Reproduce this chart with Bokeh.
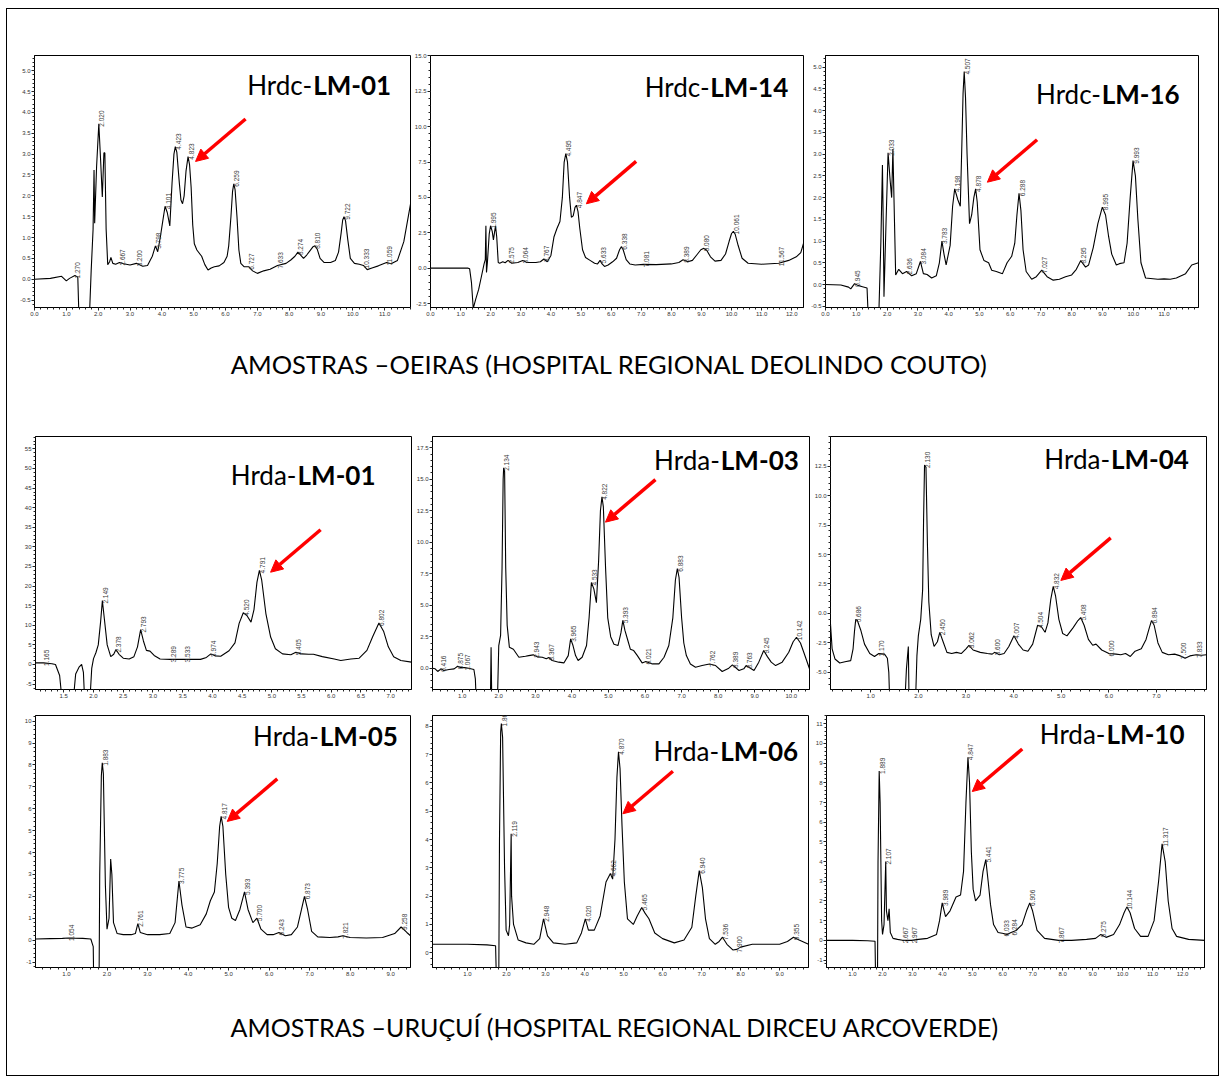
import numpy as np
from bokeh.plotting import figure
from bokeh.models import Range1d, FixedTicker, PrintfTickFormatter, Label, Arrow, NormalHead, Spacer
from bokeh.layouts import column, row
from bokeh.core.properties import value
from bokeh.embed import file_html
from bokeh.resources import INLINE

# ---------------- data: chromatogram traces (time [min], signal [mAU]) ----------------
hrdc_lm01 = [(0.00, 0.00), (0.50, 0.02), (0.85, 0.07), (1.00, -0.04), (1.10, 0.02), (1.27, 0.09), (1.36, 0.05),
             (1.40, -1.0), (1.72, -1.0), (1.78, 0.2), (1.84, 1.2), (1.87, 2.62), (1.89, 1.34), (1.95, 2.7),
             (2.02, 3.73), (2.08, 2.8), (2.13, 1.97), (2.18, 3.03), (2.21, 3.03), (2.25, 1.2), (2.30, 0.35),
             (2.36, 0.42), (2.40, 0.52), (2.46, 0.38), (2.55, 0.36), (2.667, 0.40), (2.80, 0.37), (3.00, 0.34),
             (3.20, 0.38), (3.40, 0.31), (3.55, 0.33), (3.70, 0.55), (3.798, 0.80), (3.87, 0.66), (3.95, 1.0),
             (4.03, 1.4), (4.101, 1.75), (4.17, 1.6), (4.25, 1.28), (4.32, 2.3), (4.38, 3.0), (4.423, 3.18),
             (4.47, 3.05), (4.55, 2.3), (4.60, 1.9), (4.65, 1.81), (4.70, 2.0), (4.76, 2.6), (4.823, 2.94),
             (4.87, 2.75), (4.92, 2.2), (4.97, 1.3), (5.02, 0.85), (5.10, 0.70), (5.25, 0.55), (5.35, 0.35),
             (5.45, 0.22), (5.55, 0.27), (5.65, 0.30), (5.80, 0.32), (5.95, 0.40), (6.05, 0.55), (6.10, 0.8),
             (6.17, 1.5), (6.22, 2.1), (6.259, 2.29), (6.30, 2.15), (6.36, 1.5), (6.42, 0.7), (6.48, 0.38),
             (6.58, 0.30), (6.727, 0.30), (6.85, 0.20), (7.00, 0.14), (7.20, 0.20), (7.40, 0.24), (7.633, 0.33),
             (7.90, 0.38), (8.05, 0.46), (8.18, 0.55), (8.274, 0.65), (8.36, 0.58), (8.45, 0.50), (8.55, 0.58),
             (8.65, 0.68), (8.75, 0.78), (8.810, 0.80), (8.88, 0.72), (8.97, 0.50), (9.10, 0.40), (9.30, 0.40),
             (9.45, 0.45), (9.55, 0.65), (9.63, 1.1), (9.68, 1.42), (9.722, 1.50), (9.77, 1.4), (9.84, 0.95),
             (9.92, 0.50), (10.05, 0.38), (10.20, 0.36), (10.333, 0.33), (10.45, 0.23), (10.60, 0.27),
             (10.80, 0.32), (11.059, 0.40), (11.20, 0.37), (11.40, 0.45), (11.60, 0.90), (11.81, 1.8)]
hrdc_lm01_peaks = [1.270, 2.020, 2.667, 3.200, 3.798, 4.101, 4.423, 4.823, 6.259, 6.727, 7.633, 8.274,
                   8.810, 9.722, 10.333, 11.059]

hrdc_lm14 = [(0.00, 0.00), (0.60, 0.00), (1.25, 0.00), (1.30, -0.05), (1.36, -1.0), (1.42, -2.85), (1.50, -2.2),
             (1.60, -1.5), (1.70, -0.5), (1.78, 0.3), (1.82, 0.6), (1.84, 3.0), (1.86, -0.3), (1.89, 0.4),
             (1.95, 2.4), (1.995, 3.0), (2.05, 2.6), (2.09, 2.0), (2.16, 3.0), (2.20, 2.2), (2.25, 0.4),
             (2.30, 0.35), (2.40, 0.45), (2.48, 0.38), (2.575, 0.55), (2.70, 0.35), (2.90, 0.40), (3.064, 0.55),
             (3.20, 0.40), (3.50, 0.40), (3.65, 0.45), (3.767, 0.65), (3.88, 0.45), (4.00, 0.9), (4.10, 2.2),
             (4.20, 2.8), (4.30, 3.3), (4.38, 5.0), (4.44, 7.5), (4.495, 8.1), (4.55, 7.5), (4.62, 5.0),
             (4.68, 3.6), (4.74, 3.7), (4.80, 4.3), (4.847, 4.45), (4.90, 4.0), (4.96, 2.8), (5.05, 1.3),
             (5.15, 0.75), (5.30, 0.55), (5.45, 0.35), (5.55, 0.30), (5.633, 0.55), (5.70, 0.30), (5.78, 0.12),
             (5.90, 0.22), (6.05, 0.45), (6.18, 0.70), (6.28, 1.3), (6.338, 1.52), (6.40, 1.3), (6.50, 0.6),
             (6.62, 0.30), (6.80, 0.22), (7.081, 0.27), (7.50, 0.25), (8.00, 0.30), (8.25, 0.40), (8.389, 0.60),
             (8.55, 0.45), (8.70, 0.55), (8.85, 0.95), (8.98, 1.3), (9.080, 1.40), (9.18, 1.25), (9.30, 0.80),
             (9.45, 0.50), (9.65, 0.55), (9.80, 1.0), (9.92, 1.9), (10.00, 2.45), (10.061, 2.6), (10.12, 2.4),
             (10.22, 1.6), (10.35, 0.7), (10.55, 0.35), (11.00, 0.28), (11.567, 0.35), (11.90, 0.55),
             (12.15, 0.80), (12.30, 1.1), (12.39, 1.75)]
hrdc_lm14_peaks = [1.995, 2.575, 3.064, 3.767, 4.495, 4.847, 5.633, 6.338, 7.081, 8.389, 9.080, 10.061, 11.567]

hrdc_lm16 = [(0.00, 0.00), (0.50, -0.01), (0.75, -0.06), (0.82, -0.10), (0.945, 0.02), (1.05, -0.02),
             (1.20, -0.05), (1.35, -0.08), (1.38, -0.6), (1.40, -1.0), (1.72, -1.0), (1.80, 1.0), (1.85, 2.75),
             (1.88, 1.2), (1.90, -0.28), (1.97, 1.5), (2.033, 3.03), (2.10, 2.4), (2.15, 2.0), (2.19, 3.12),
             (2.24, 1.5), (2.28, 0.22), (2.38, 0.35), (2.50, 0.25), (2.636, 0.30), (2.80, 0.20), (2.95, 0.25),
             (3.084, 0.53), (3.18, 0.25), (3.30, 0.23), (3.45, 0.15), (3.60, 0.20), (3.70, 0.50), (3.783, 1.0),
             (3.85, 0.7), (3.92, 0.45), (4.05, 0.90), (4.13, 1.8), (4.198, 2.2), (4.30, 1.95), (4.38, 1.80),
             (4.43, 3.2), (4.47, 4.4), (4.507, 4.9), (4.55, 4.3), (4.60, 3.0), (4.68, 1.40), (4.75, 1.60),
             (4.82, 2.0), (4.878, 2.2), (4.93, 1.9), (5.02, 0.80), (5.15, 0.55), (5.30, 0.50), (5.40, 0.33),
             (5.55, 0.30), (5.75, 0.25), (5.90, 0.50), (6.05, 0.65), (6.15, 0.95), (6.22, 1.6), (6.288, 2.1),
             (6.35, 1.7), (6.42, 0.8), (6.52, 0.30), (6.70, 0.12), (6.85, 0.18), (7.027, 0.33), (7.20, 0.18),
             (7.40, 0.10), (7.60, 0.12), (7.80, 0.18), (8.00, 0.22), (8.15, 0.35), (8.295, 0.55), (8.45, 0.40),
             (8.55, 0.45), (8.70, 0.85), (8.85, 1.4), (8.995, 1.78), (9.10, 1.6), (9.20, 1.1), (9.30, 0.70),
             (9.45, 0.45), (9.55, 0.48), (9.70, 0.50), (9.80, 0.95), (9.90, 2.0), (9.993, 2.85), (10.07, 2.5),
             (10.15, 1.5), (10.25, 0.5), (10.40, 0.15), (10.80, 0.12), (11.00, 0.13), (11.20, 0.12),
             (11.40, 0.15), (11.70, 0.25), (11.90, 0.45), (12.12, 0.50)]
hrdc_lm16_peaks = [0.945, 2.033, 2.636, 3.084, 3.783, 4.198, 4.507, 4.878, 6.288, 7.027, 8.295, 8.995, 9.993]

hrda_lm01 = [(1.024, 0.4), (1.16, 0.4), (1.30, 0.2), (1.36, 0.0), (1.43, -2.8), (1.47, -9.0), (1.66, -9.0),
             (1.70, -2.4), (1.76, -0.6), (1.80, 0.0), (1.83, -2.0), (1.85, -9.0), (1.94, -9.0), (1.97, -1.0),
             (2.00, 1.5), (2.04, 3.0), (2.08, 5.0), (2.12, 11.0), (2.149, 16.3), (2.18, 12.0), (2.23, 5.0),
             (2.29, 2.0), (2.34, 2.6), (2.378, 3.8), (2.43, 2.6), (2.50, 1.6), (2.60, 1.4), (2.68, 2.0),
             (2.74, 4.5), (2.793, 8.9), (2.84, 6.0), (2.89, 3.6), (2.95, 3.4), (3.02, 2.3), (3.12, 1.4),
             (3.289, 1.3), (3.533, 1.3), (3.80, 1.3), (3.90, 1.8), (3.974, 2.7), (4.05, 2.2), (4.14, 2.1),
             (4.28, 3.5), (4.38, 5.5), (4.45, 10.5), (4.520, 13.2), (4.58, 12.5), (4.65, 10.8), (4.70, 14.0),
             (4.75, 21.0), (4.791, 24.0), (4.83, 21.5), (4.90, 13.0), (4.98, 7.0), (5.06, 4.0), (5.18, 2.7),
             (5.32, 2.5), (5.405, 3.1), (5.50, 2.7), (5.62, 2.6), (5.70, 2.6), (5.85, 2.0), (6.05, 1.4),
             (6.16, 1.0), (6.33, 1.4), (6.47, 1.6), (6.60, 3.6), (6.70, 7.2), (6.802, 10.6), (6.88, 8.5),
             (6.96, 4.5), (7.05, 2.0), (7.17, 1.0), (7.35, 0.6)]
hrda_lm01_peaks = [1.165, 2.149, 2.378, 2.793, 3.289, 3.533, 3.974, 4.520, 4.791, 5.405, 6.802]

hrda_lm03 = [(0.188, 0.0), (0.26, -0.05), (0.33, -0.26), (0.40, -0.10), (0.416, -0.05), (0.50, -0.18),
             (0.64, -0.10), (0.78, -0.05), (0.875, 0.16), (0.95, 0.05), (1.067, 0.05), (1.18, 0.0),
             (1.32, -0.10), (1.36, -0.85), (1.39, -3.0), (1.77, -3.0), (1.79, 1.67), (1.81, -3.0), (1.96, -3.0),
             (2.00, 1.8), (2.05, 2.6), (2.09, 8.0), (2.12, 15.0), (2.134, 15.9), (2.16, 15.6), (2.19, 8.0),
             (2.23, 3.4), (2.29, 1.67), (2.40, 1.5), (2.55, 0.87), (2.73, 0.95), (2.82, 1.0), (2.943, 1.06),
             (3.05, 0.9), (3.19, 0.87), (3.30, 0.75), (3.367, 0.85), (3.46, 0.61), (3.64, 0.48), (3.78, 0.42),
             (3.90, 1.0), (3.965, 2.33), (4.03, 1.8), (4.10, 1.0), (4.17, 0.61), (4.28, 0.87), (4.40, 1.8),
             (4.47, 4.0), (4.533, 6.8), (4.60, 6.3), (4.67, 5.2), (4.73, 8.5), (4.78, 12.5), (4.822, 13.6),
             (4.86, 12.8), (4.92, 8.0), (4.98, 4.0), (5.06, 2.5), (5.15, 1.9), (5.26, 1.8), (5.34, 2.8),
             (5.393, 3.8), (5.45, 3.0), (5.53, 2.2), (5.60, 1.5), (5.69, 1.4), (5.79, 1.0), (5.92, 0.42),
             (6.021, 0.53), (6.20, 0.34), (6.38, 0.34), (6.52, 0.87), (6.65, 1.8), (6.76, 4.0), (6.83, 7.0),
             (6.883, 7.9), (6.93, 7.2), (7.00, 4.0), (7.06, 2.0), (7.13, 1.0), (7.24, 0.34), (7.38, 0.08),
             (7.56, 0.21), (7.762, 0.34), (7.93, 0.21), (8.11, -0.26), (8.29, 0.0), (8.389, 0.26), (8.57, -0.18),
             (8.70, -0.05), (8.763, 0.21), (8.98, -0.18), (9.11, 0.48), (9.245, 1.4), (9.35, 0.9), (9.45, 0.48),
             (9.57, 0.21), (9.75, 0.48), (9.93, 1.27), (10.05, 2.1), (10.142, 2.46), (10.25, 2.0), (10.34, 1.27),
             (10.497, -0.05)]
hrda_lm03_peaks = [0.416, 0.875, 1.067, 2.134, 2.943, 3.367, 3.965, 4.533, 4.822, 5.393, 6.021, 6.883, 7.762,
                   8.389, 8.763, 9.245, 10.142]

hrda_lm04 = [(0.156, -0.9), (0.19, -3.0), (0.25, -3.86), (0.35, -4.2), (0.46, -4.1), (0.58, -4.0), (0.63, -3.0),
             (0.66, -1.5), (0.686, -0.5), (0.72, -0.6), (0.79, -1.4), (0.87, -2.6), (0.98, -3.4), (1.08, -3.65),
             (1.170, -3.4), (1.29, -3.45), (1.35, -3.8), (1.38, -5.0), (1.41, -9.0), (1.70, -9.0), (1.75, -4.7),
             (1.79, -2.8), (1.81, -9.0), (1.93, -9.0), (1.97, -3.6), (2.00, -1.9), (2.05, -0.5), (2.09, 2.0),
             (2.11, 8.0), (2.130, 12.6), (2.16, 12.4), (2.19, 6.0), (2.22, 1.0), (2.27, -1.8), (2.33, -2.8),
             (2.40, -2.4), (2.450, -1.6), (2.52, -2.4), (2.60, -3.3), (2.70, -3.4), (2.80, -3.3), (2.90, -3.4),
             (3.00, -3.0), (3.062, -2.7), (3.15, -3.1), (3.30, -3.3), (3.45, -3.4), (3.55, -3.45), (3.600, -3.3),
             (3.70, -3.5), (3.80, -3.4), (3.90, -2.8), (4.007, -1.9), (4.10, -2.6), (4.20, -3.1), (4.30, -3.2),
             (4.40, -2.6), (4.504, -1.0), (4.58, -1.1), (4.66, -1.6), (4.72, -0.8), (4.78, 1.2), (4.832, 2.3),
             (4.88, 1.5), (4.95, -0.5), (5.03, -1.7), (5.12, -1.9), (5.25, -1.2), (5.35, -0.6), (5.408, -0.35),
             (5.48, -1.0), (5.57, -2.2), (5.66, -2.7), (5.73, -2.6), (5.85, -3.1), (6.000, -3.4), (6.15, -3.45),
             (6.25, -3.5), (6.35, -3.4), (6.45, -3.65), (6.55, -3.2), (6.68, -3.0), (6.78, -2.2), (6.85, -1.2),
             (6.894, -0.6), (6.95, -1.0), (7.03, -2.5), (7.12, -3.3), (7.25, -3.5), (7.38, -3.45), (7.500, -3.6),
             (7.60, -3.8), (7.70, -3.6), (7.833, -3.5), (7.95, -3.55), (8.049, -3.5)]
hrda_lm04_peaks = [0.686, 1.170, 2.130, 2.450, 3.062, 3.600, 4.007, 4.504, 4.832, 5.408, 6.000, 6.894, 7.500, 7.833]

hrda_lm05 = [(0.235, 0.05), (0.60, 0.07), (0.90, 0.08), (1.054, 0.10), (1.20, 0.09), (1.40, 0.08), (1.60, 0.05),
             (1.66, -0.3), (1.68, -3.0), (1.80, -3.0), (1.82, 3.0), (1.86, 7.5), (1.883, 8.1), (1.91, 7.6),
             (1.96, 2.5), (2.00, 0.5), (2.05, 1.0), (2.09, 3.7), (2.12, 3.0), (2.16, 0.8), (2.25, 0.3),
             (2.40, 0.25), (2.60, 0.25), (2.70, 0.30), (2.761, 0.75), (2.82, 0.35), (3.00, 0.25), (3.30, 0.25),
             (3.55, 0.30), (3.68, 0.8), (3.775, 2.7), (3.85, 1.6), (3.95, 0.6), (4.10, 0.55), (4.30, 0.7),
             (4.45, 1.2), (4.55, 1.8), (4.65, 2.2), (4.72, 3.5), (4.78, 5.2), (4.817, 5.65), (4.86, 5.2),
             (4.93, 3.0), (5.00, 1.5), (5.08, 1.0), (5.17, 0.9), (5.28, 1.4), (5.393, 2.2), (5.48, 1.4),
             (5.60, 0.8), (5.700, 1.0), (5.80, 0.5), (5.95, 0.25), (6.10, 0.25), (6.243, 0.35), (6.40, 0.20),
             (6.55, 0.25), (6.70, 0.6), (6.80, 1.4), (6.873, 2.0), (6.95, 1.4), (7.05, 0.4), (7.20, 0.15),
             (7.50, 0.12), (7.70, 0.15), (7.821, 0.20), (8.00, 0.12), (8.40, 0.10), (8.80, 0.12), (9.10, 0.30),
             (9.258, 0.60), (9.40, 0.35), (9.49, 0.20)]
hrda_lm05_peaks = [1.054, 1.883, 2.761, 3.775, 4.817, 5.393, 5.700, 6.243, 6.873, 7.821, 9.258]

hrda_lm06 = [(0.103, 0.3), (0.50, 0.3), (1.00, 0.3), (1.50, 0.28), (1.72, 0.25), (1.75, -1.5), (1.80, -1.5),
             (1.82, 4.0), (1.85, 7.8), (1.868, 8.1), (1.90, 7.6), (1.95, 3.0), (1.99, 0.8), (2.05, 0.6),
             (2.08, 1.0), (2.119, 4.2), (2.13, 2.0), (2.18, 1.0), (2.30, 0.45), (2.50, 0.35), (2.70, 0.30),
             (2.85, 0.5), (2.948, 1.2), (3.05, 0.6), (3.20, 0.35), (3.50, 0.30), (3.80, 0.35), (3.92, 0.7),
             (4.020, 1.2), (4.10, 0.8), (4.25, 0.8), (4.40, 1.3), (4.55, 2.5), (4.662, 2.8), (4.72, 2.6),
             (4.78, 4.0), (4.83, 6.2), (4.870, 7.1), (4.91, 6.5), (4.96, 4.5), (5.02, 2.5), (5.10, 1.2),
             (5.25, 1.0), (5.35, 1.3), (5.465, 1.6), (5.55, 1.4), (5.65, 1.2), (5.80, 0.7), (6.00, 0.5),
             (6.30, 0.35), (6.55, 0.45), (6.75, 0.9), (6.85, 2.0), (6.940, 2.9), (7.02, 2.3), (7.10, 1.2),
             (7.20, 0.5), (7.35, 0.3), (7.45, 0.4), (7.536, 0.55), (7.65, 0.3), (7.80, 0.1), (7.900, 0.12),
             (8.00, 0.2), (8.30, 0.3), (8.60, 0.3), (9.00, 0.3), (9.20, 0.4), (9.355, 0.55), (9.50, 0.45),
             (9.74, 0.3)]
hrda_lm06_peaks = [1.868, 2.119, 2.948, 4.020, 4.662, 4.870, 5.465, 6.940, 7.536, 7.900, 9.355]

hrda_lm10 = [(0.133, 0.0), (0.50, 0.0), (1.00, 0.0), (1.50, -0.02), (1.75, -0.05), (1.78, -3.0), (1.83, -3.0),
             (1.85, 4.0), (1.889, 8.6), (1.92, 7.0), (1.97, 1.0), (2.00, 0.3), (2.05, 0.8), (2.107, 4.0),
             (2.13, 1.5), (2.18, 1.0), (2.22, 1.6), (2.26, 0.4), (2.35, 0.1), (2.50, 0.05), (2.667, 0.0),
             (2.80, 0.0), (2.967, 0.0), (3.20, 0.05), (3.50, 0.1), (3.80, 0.3), (3.90, 1.0), (3.989, 1.9),
             (4.10, 1.2), (4.25, 1.5), (4.45, 2.2), (4.60, 2.3), (4.70, 3.5), (4.78, 7.0), (4.847, 9.3),
             (4.90, 8.0), (4.96, 4.5), (5.02, 2.6), (5.10, 2.0), (5.25, 2.3), (5.35, 3.5), (5.441, 4.1),
             (5.52, 3.0), (5.60, 1.8), (5.70, 0.8), (5.85, 0.4), (6.033, 0.35), (6.15, 0.3), (6.284, 0.4),
             (6.45, 0.5), (6.65, 0.8), (6.80, 1.5), (6.906, 1.9), (7.00, 1.5), (7.15, 0.5), (7.40, 0.1),
             (7.867, 0.0), (8.30, 0.0), (8.80, 0.05), (9.10, 0.1), (9.275, 0.3), (9.45, 0.15), (9.70, 0.3),
             (9.90, 0.8), (10.05, 1.4), (10.144, 1.7), (10.25, 1.4), (10.40, 0.6), (10.60, 0.2), (10.85, 0.2),
             (11.05, 1.0), (11.20, 3.0), (11.317, 4.9), (11.42, 4.0), (11.52, 2.0), (11.65, 0.6), (11.80, 0.2),
             (12.20, 0.05), (12.73, 0.0)]
hrda_lm10_peaks = [1.889, 2.107, 2.667, 2.967, 3.989, 4.847, 5.441, 6.033, 6.284, 6.906, 7.867, 9.275,
                   10.144, 11.317]

# tick values
ticks_x_p1 = [0.0, 1.0, 2.0, 3.0, 4.0, 5.0, 6.0, 7.0, 8.0, 9.0, 10.0, 11.0]
ticks_x_p2 = [0.0, 1.0, 2.0, 3.0, 4.0, 5.0, 6.0, 7.0, 8.0, 9.0, 10.0, 11.0, 12.0]
ticks_x_p3 = [0.0, 1.0, 2.0, 3.0, 4.0, 5.0, 6.0, 7.0, 8.0, 9.0, 10.0, 11.0]
ticks_x_p4 = [1.5, 2.0, 2.5, 3.0, 3.5, 4.0, 4.5, 5.0, 5.5, 6.0, 6.5, 7.0]
ticks_x_p5 = [1.0, 2.0, 3.0, 4.0, 5.0, 6.0, 7.0, 8.0, 9.0, 10.0]
ticks_x_p6 = [1.0, 2.0, 3.0, 4.0, 5.0, 6.0, 7.0]
ticks_x_p7 = [1.0, 2.0, 3.0, 4.0, 5.0, 6.0, 7.0, 8.0, 9.0]
ticks_x_p8 = [1.0, 2.0, 3.0, 4.0, 5.0, 6.0, 7.0, 8.0, 9.0]
ticks_x_p9 = [1.0, 2.0, 3.0, 4.0, 5.0, 6.0, 7.0, 8.0, 9.0, 10.0, 11.0, 12.0]
ticks_y_p1 = [-0.5, 0.0, 0.5, 1.0, 1.5, 2.0, 2.5, 3.0, 3.5, 4.0, 4.5, 5.0]
ticks_y_p2 = [-2.5, 0.0, 2.5, 5.0, 7.5, 10.0, 12.5, 15.0]
ticks_y_p3 = [-0.5, 0.0, 0.5, 1.0, 1.5, 2.0, 2.5, 3.0, 3.5, 4.0, 4.5, 5.0]
ticks_y_p4 = [-5, 0, 5, 10, 15, 20, 25, 30, 35, 40, 45, 50, 55]
ticks_y_p5 = [0.0, 2.5, 5.0, 7.5, 10.0, 12.5, 15.0, 17.5]
ticks_y_p6 = [-5.0, -2.5, 0.0, 2.5, 5.0, 7.5, 10.0, 12.5]
ticks_y_p7 = [-1, 0, 1, 2, 3, 4, 5, 6, 7, 8, 9, 10]
ticks_y_p8 = [0, 1, 2, 3, 4, 5, 6, 7, 8]
ticks_y_p9 = [-1, 0, 1, 2, 3, 4, 5, 6, 7, 8, 9, 10, 11]

caption_top = "AMOSTRAS \u2013OEIRAS (HOSPITAL REGIONAL DEOLINDO COUTO)"
caption_bottom = "AMOSTRAS \u2013URU\u00c7U\u00cd (HOSPITAL REGIONAL DIRCEU ARCOVERDE)"

# ---------------- layout / style configuration ----------------
TICK_FONT = "Liberation Sans"
TICK_SIZE = "6px"
BOLD_W = 79.0  # estimated pixel width of the bold sample code at 26px

panels = [
    dict(data=hrdc_lm01, peaks=hrdc_lm01_peaks, a="Hrdc-", b="LM-01", target=4.823,
         frame=(376, 252), borders=(27, 1, 46, 25), xr=(0.0, 11.81), yr=(-0.679, 5.367),
         xt=ticks_x_p1, xminor=0.2, yt=ticks_y_p1, yminor=0.1, xf="%.1f", yf="%.1f",
         lab=(19.3, 41), tip=(7.5, 4.8)),
    dict(data=hrdc_lm14, peaks=hrdc_lm14_peaks, a="Hrdc-", b="LM-14", target=4.847,
         frame=(375, 252), borders=(17, 5, 46, 25), xr=(0.0, 12.39), yr=(-2.78, 15.03),
         xt=ticks_x_p2, xminor=0.2, yt=ticks_y_p2, yminor=0.5, xf="%.1f", yf="%.1f",
         lab=(15.3, 43), tip=(10.0, -1.4)),
    dict(data=hrdc_lm16, peaks=hrdc_lm16_peaks, a="Hrdc-", b="LM-16", target=4.878,
         frame=(375, 252), borders=(15, 20, 46, 25), xr=(0.0, 12.12), yr=(-0.529, 5.27),
         xt=ticks_x_p3, xminor=0.2, yt=ticks_y_p3, yminor=0.1, xf="%.1f", yf="%.1f",
         lab=(19.0, 50), tip=(11.8, -6.7)),
    dict(data=hrda_lm01, peaks=hrda_lm01_peaks, a="Hrda-", b="LM-01", target=4.791,
         frame=(376, 253), borders=(28, 1, 26, 16), xr=(1.024, 7.35), yr=(-6.38, 58.16),
         xt=ticks_x_p4, xminor=0.1, yt=ticks_y_p4, yminor=1.0, xf="%.1f", yf="%d",
         lab=(36.0, 50), tip=(11.2, 1.8)),
    dict(data=hrda_lm03, peaks=hrda_lm03_peaks, a="Hrda-", b="LM-03", target=4.822,
         frame=(377, 253), borders=(20, 2, 26, 16), xr=(0.188, 10.497), yr=(-1.69, 18.39),
         xt=ticks_x_p5, xminor=0.2, yt=ticks_y_p5, yminor=0.5, xf="%.1f", yf="%.1f",
         lab=(10.7, 34.7), tip=(3.5, 25.3)),
    dict(data=hrda_lm04, peaks=hrda_lm04_peaks, a="Hrda-", b="LM-04", target=4.832,
         frame=(377, 253), borders=(18, 12, 26, 16), xr=(0.156, 8.049), yr=(-6.45, 15.01),
         xt=ticks_x_p6, xminor=0.2, yt=ticks_y_p6, yminor=0.5, xf="%.1f", yf="%.1f",
         lab=(17.7, 34.3), tip=(7.6, -5.9)),
    dict(data=hrda_lm05, peaks=hrda_lm05_peaks, a="Hrda-", b="LM-05", target=4.817,
         frame=(375, 252), borders=(28, 2, 10, 22), xr=(0.235, 9.49), yr=(-1.25, 10.26),
         xt=ticks_x_p7, xminor=0.2, yt=ticks_y_p7, yminor=0.2, xf="%.1f", yf="%d",
         lab=(12.7, 32), tip=(6.1, 5.0)),
    dict(data=hrda_lm06, peaks=hrda_lm06_peaks, a="Hrda-", b="LM-06", target=4.870,
         frame=(376, 252), borders=(20, 3, 10, 22), xr=(0.103, 9.74), yr=(-0.52, 8.38),
         xt=ticks_x_p8, xminor=0.2, yt=ticks_y_p8, yminor=0.2, xf="%.1f", yf="%d",
         lab=(10.3, 47), tip=(4.4, 62.0)),
    dict(data=hrda_lm10, peaks=hrda_lm10_peaks, a="Hrda-", b="LM-10", target=4.847,
         frame=(378, 252), borders=(15, 14, 10, 22), xr=(0.133, 12.73), yr=(-1.38, 11.42),
         xt=ticks_x_p9, xminor=0.2, yt=ticks_y_p9, yminor=0.2, xf="%.1f", yf="%d",
         lab=(20.0, 30), tip=(4.3, 34.3)),
]


def minor_list(lo, hi, step):
    n0 = int(np.floor(lo / step)) - 1
    n1 = int(np.ceil(hi / step)) + 1
    return [round(k * step, 6) for k in range(n0, n1 + 1)]


def make_panel(cfg):
    t = np.array([pt[0] for pt in cfg["data"]])
    v = np.array([pt[1] for pt in cfg["data"]])
    fw, fh = cfg["frame"]
    bl, br, bt, bb = cfg["borders"]
    x0, x1 = cfg["xr"]
    y0, y1 = cfg["yr"]
    ppx = fw / (x1 - x0)
    ppy = fh / (y1 - y0)
    p = figure(width=bl + fw + br, height=bt + fh + bb,
               x_range=Range1d(x0, x1), y_range=Range1d(y0, y1),
               output_backend="svg", toolbar_location=None, title=None,
               min_border_left=bl, min_border_right=br, min_border_top=bt, min_border_bottom=bb)
    p.background_fill_color = "white"
    p.border_fill_color = "white"
    p.outline_line_color = "black"
    p.outline_line_width = 1
    p.grid.visible = False

    p.xaxis.ticker = FixedTicker(ticks=cfg["xt"], minor_ticks=minor_list(x0, x1, cfg["xminor"]))
    p.yaxis.ticker = FixedTicker(ticks=cfg["yt"], minor_ticks=minor_list(y0, y1, cfg["yminor"]))
    p.xaxis.formatter = PrintfTickFormatter(format=cfg["xf"])
    p.yaxis.formatter = PrintfTickFormatter(format=cfg["yf"])
    for ax in (p.xaxis[0], p.yaxis[0]):
        ax.major_label_text_font = TICK_FONT
        ax.major_label_text_font_size = TICK_SIZE
        ax.major_label_text_color = "#333333"
        ax.major_tick_in = 0
        ax.major_tick_out = 3
        ax.minor_tick_in = 0
        ax.minor_tick_out = 2
        ax.axis_line_color = "black"
        ax.major_tick_line_color = "#222222"
        ax.minor_tick_line_color = "#222222"
        ax.major_label_standoff = 1

    # chromatogram trace
    p.line(t, v, line_color="black", line_width=1.1)

    # retention-time labels (vertical, at the apex)
    rts = cfg["peaks"]
    heights = np.interp(rts, t, v)
    p.text(x=rts, y=list(heights), text=["%.3f" % r for r in rts], angle=np.pi / 2,
           text_align="left", text_baseline="middle", x_offset=3, y_offset=3,
           text_font=value(TICK_FONT), text_font_size="6.5px", text_color="#3a3a3a")

    # sample code label: regular + bold parts (anchored at the middle of the caps)
    right_off, base_off = cfg["lab"]
    xr_right = x1 - right_off / ppx
    ylab = y1 - (base_off - 11.4) / ppy
    p.text(x=[xr_right], y=[ylab], text=[cfg["b"]], text_align="right", text_baseline="middle",
           text_font=value("Lato"), text_font_style="bold", text_font_size="26px", text_color="black")
    p.text(x=[xr_right - BOLD_W / ppx], y=[ylab], text=[cfg["a"]], text_align="right",
           text_baseline="middle", text_font=value("Lato"), text_font_size="26px", text_color="black")

    # red arrow pointing at the target peak
    ht = float(np.interp(cfg["target"], t, v))
    dx, dy = cfg["tip"]
    tip_x = cfg["target"] + dx / ppx
    tip_y = ht - dy / ppy
    tail_x = tip_x + 50 / ppx
    tail_y = tip_y + 42.5 / ppy
    p.add_layout(Arrow(end=NormalHead(size=12, fill_color="#ff0000", line_color="#ff0000", line_width=1),
                       x_start=tail_x, y_start=tail_y, x_end=tip_x, y_end=tip_y,
                       line_color="#ff0000", line_width=3.5))

    # unit labels
    p.add_layout(Label(x=x0 - 4 / ppx, y=y1 + 1.5 / ppy, text="mAU", text_align="left",
                       text_baseline="bottom", text_font=TICK_FONT, text_font_size="6px",
                       text_color="#333333"))
    last = max(tk for tk in cfg["xt"] if tk <= x1)
    lab_w = 3.35 * len(cfg["xf"] % last)
    min_left = x1 - 10.0 / ppx
    min_left = max(min_left, last + (lab_w / 2 + 0.8) / ppx)
    p.add_layout(Label(x=min_left, y=y0 - 4 / ppy, text="min", text_align="left",
                       text_baseline="top", text_font=TICK_FONT, text_font_size=TICK_SIZE,
                       text_color="#333333"))
    return p


figs = [make_panel(c) for c in panels]


def caption_fig(text, h, cy, cx, size):
    f = figure(width=1211, height=h, x_range=Range1d(0, 1211), y_range=Range1d(0, h),
               output_backend="svg", toolbar_location=None, title=None,
               x_axis_type=None, y_axis_type=None, min_border=0)
    f.outline_line_color = None
    f.background_fill_color = "white"
    f.border_fill_color = "white"
    f.grid.visible = False
    f.text(x=[cx], y=[h - cy], text=[text], text_align="center", text_baseline="middle",
           text_font=value("Lato"), text_font_size=size, text_color="black")
    return f


cap1 = caption_fig(caption_top, 78, 31, 602, "25.5px")
cap2 = caption_fig(caption_bottom, 86, 37, 608, "25px")

inner = column(row(figs[0], figs[1], figs[2], spacing=0), cap1,
               row(figs[3], figs[4], figs[5], spacing=0),
               row(figs[6], figs[7], figs[8], spacing=0), cap2,
               spacing=0, styles={"outline": "1px solid black"})
root = column(Spacer(height=9, width=10), row(Spacer(width=7, height=10), inner, spacing=0), spacing=0)

open("out.html", "w").write(file_html(root, INLINE))
